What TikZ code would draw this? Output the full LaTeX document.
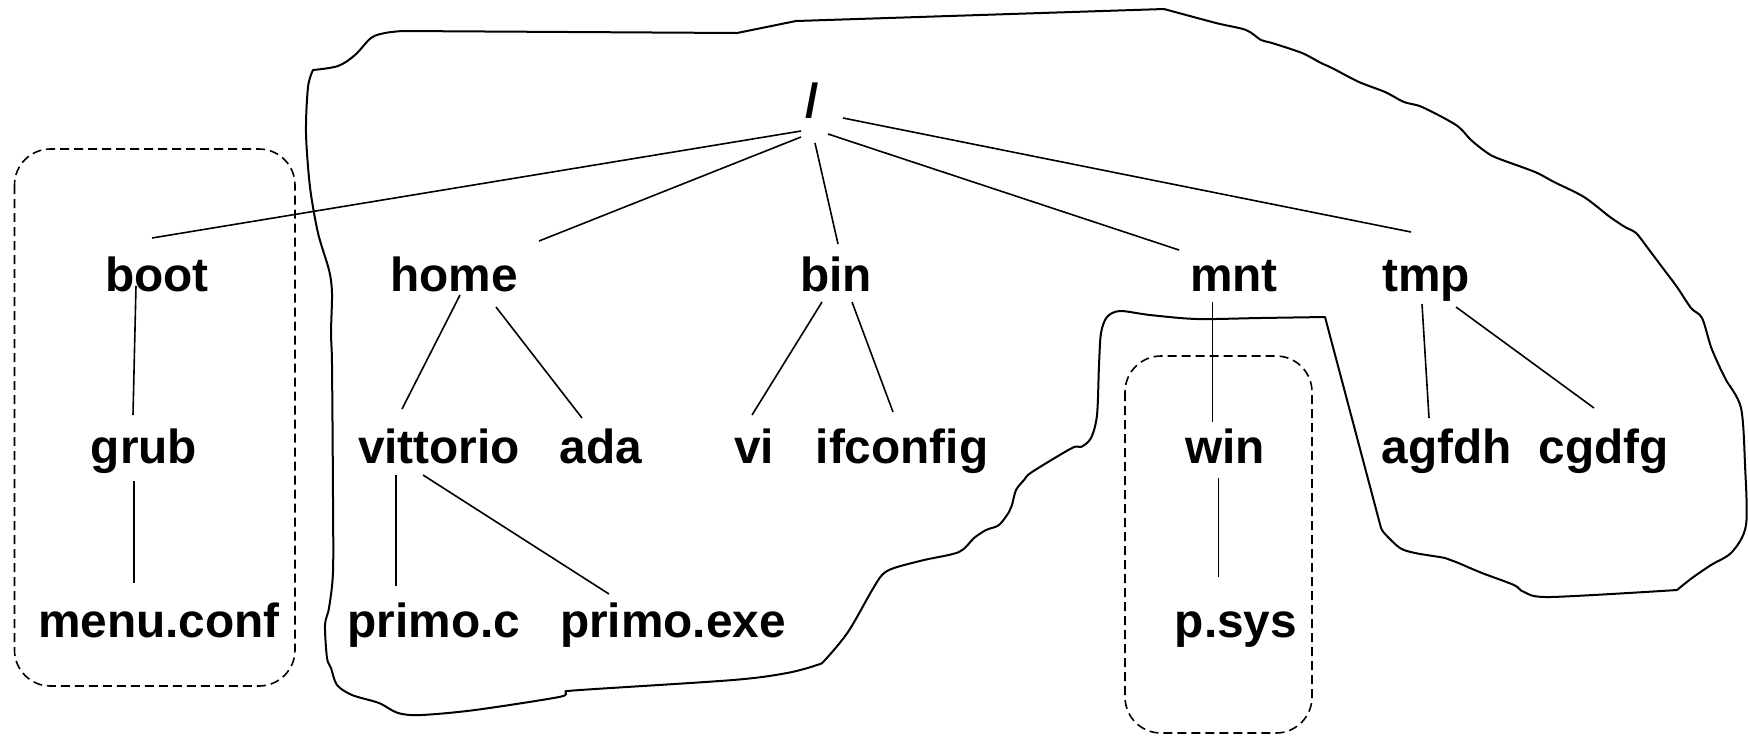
\documentclass[tikz,border=0pt]{standalone}
\usepackage{fontspec}
\setmainfont{Liberation Sans}
\usetikzlibrary{calc}
\begin{document}
\begin{tikzpicture}[x=0.5pt,y=-0.5pt,
  fname/.style={anchor=base, inner sep=0pt, font=\fontsize{23.9}{28}\selectfont\bfseries},
  branch/.style={line width=0.8pt},
  outline/.style={line width=1pt, line join=round},
  groupbox/.style={line width=0.8pt, dash pattern=on 4.5pt off 2.5pt, rounded corners=18pt}]
\useasboundingbox (0,0) rectangle (1748,735);

% file names
\node[fname] (root)     at (812,117)  {/};
\node[fname] (boot)     at (157,291)  {boot};
\node[fname] (home)     at (454,291)  {home};
\node[fname] (bin)      at (836,291)  {bin};
\node[fname] (mnt)      at (1234,291) {mnt};
\node[fname] (tmp)      at (1426,291) {tmp};
\node[fname] (grub)     at (144,463)  {grub};
\node[fname] (vittorio) at (439,463)  {vittorio};
\node[fname] (ada)      at (601,463)  {ada};
\node[fname] (vi)       at (754,463)  {vi};
\node[fname] (ifconfig) at (902,463)  {ifconfig};
\node[fname] (win)      at (1225,463) {win};
\node[fname] (agfdh)    at (1447,463) {agfdh};
\node[fname] (cgdfg)    at (1604,463) {cgdfg};
\node[fname] (menu)     at (159,637)  {menu.conf};
\node[fname] (primoc)   at (434,637)  {primo.c};
\node[fname] (primoexe) at (673,637)  {primo.exe};
\node[fname] (psys)     at (1236,637) {p.sys};

% tree branches
\draw[branch] ($(root.base)+(-11,14)$) -- ($(boot.base)+(-5,-53)$);
\draw[branch] ($(root.base)+(-11,20)$) -- ($(home.base)+(85,-50)$);
\draw[branch] ($(root.base)+(3,26)$)   -- ($(bin.base)+(2,-47)$);
\draw[branch] ($(root.base)+(16,17)$)  -- ($(mnt.base)+(-55,-41)$);
\draw[branch] ($(root.base)+(31,1)$)   -- ($(tmp.base)+(-15,-59)$);
\draw[branch] ($(boot.base)+(-21,-5)$) -- ($(grub.base)+(-11,-48)$);
\draw[branch] ($(grub.base)+(-10,18)$) -- ($(menu.base)+(-25,-54)$);
\draw[branch] ($(home.base)+(6,4)$)    -- ($(vittorio.base)+(-37,-54)$);
\draw[branch] ($(home.base)+(42,16)$)  -- ($(ada.base)+(-19,-45)$);
\draw[branch] ($(bin.base)+(-14,11)$)  -- ($(vi.base)+(-2,-48)$);
\draw[branch] ($(bin.base)+(16,11)$)   -- ($(ifconfig.base)+(-9,-51)$);
\draw[branch] ($(mnt.base)+(-21.5,11)$) -- ($(win.base)+(-12.5,-41)$);
\draw[branch] ($(tmp.base)+(-4,13)$)   -- ($(agfdh.base)+(-18,-45)$);
\draw[branch] ($(tmp.base)+(30,16)$)   -- ($(cgdfg.base)+(-10,-55)$);
\draw[branch] ($(vittorio.base)+(-43,12)$) -- ($(primoc.base)+(-38,-51)$);
\draw[branch] ($(vittorio.base)+(-16,12)$) -- ($(primoexe.base)+(-64,-43)$);
\draw[branch] ($(win.base)+(-6.5,15)$) -- ($(psys.base)+(-17.5,-60)$);

% dashed groups
\draw[groupbox] (14.5,149) rectangle (295,686);
\draw[groupbox] (1125,356) rectangle (1312,733);

% freehand outline of the root file system
\draw[outline]
  plot[smooth, tension=0.55] coordinates {(313,70) (338,66) (355,55) (371,38) (385,33) (402,31)}
  -- (737,33) -- (796,21) -- (1164,9)
  -- plot[smooth, tension=0.5] coordinates {(1164,9) (1216,23) (1246,30) (1261,40) (1272,43)
     (1302,53) (1321,63) (1332,68) (1359,82) (1385,92) (1404,102) (1422,107) (1456,125)
     (1471,140) (1486,152) (1497,158) (1535,172) (1554,182) (1584,197) (1610,217) (1625,227)
     (1636,233) (1647,247) (1662,267) (1677,287) (1691,308) (1702,318) (1711,347) (1721,370)
     (1726,380) (1741,408) (1745,465) (1746,525) (1732,552) (1711,565) (1692,578) (1677,590)}
  -- plot[smooth, tension=0.5] coordinates {(1677,590) (1550,597) (1524,592) (1514,585)
     (1482,573) (1456,562) (1445,558) (1415,553) (1400,548) (1385,534) (1381,528)}
  -- (1325,317)
  -- plot[smooth, tension=0.5] coordinates {(1325,317) (1260,318) (1197,319) (1150,315)
     (1120,311) (1107,317) (1101,333) (1099,365) (1097,415) (1091,438) (1081,447) (1072,448)
     (1032,472) (1024,480) (1016,490) (1012,505) (1009,512) (999,525) (986,530) (974,538)
     (959,552) (924,560) (894,568) (882,575) (871,592) (848,632) (825,660) (817,665) (787,673)
     (733,680) (580,690) (566,692) (559,697) (475,710) (421,715) (398,713) (379,703) (352,695)
     (337,685) (331,668) (327,658) (325,625) (329,608) (333,572) (333,498) (332,365) (331,333)
     (332,293) (329,270) (318,233) (310,187) (306,133) (308,87) (313,70)}
  -- cycle;
\end{tikzpicture}
\end{document}
